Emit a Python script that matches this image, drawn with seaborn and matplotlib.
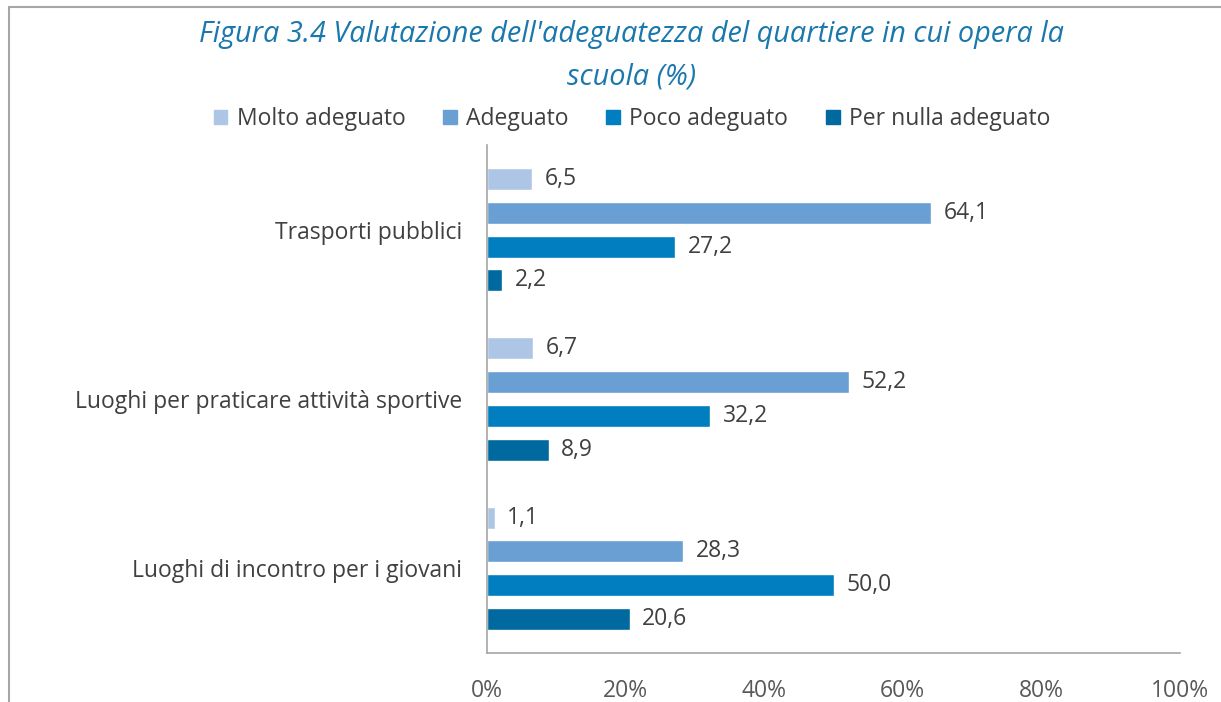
import matplotlib
matplotlib.use("Agg")
import matplotlib.pyplot as plt
import seaborn as sns
import pandas as pd
from matplotlib.lines import Line2D
from matplotlib.ticker import FuncFormatter

categories = ["Trasporti pubblici",
              "Luoghi per praticare attività sportive",
              "Luoghi di incontro per i giovani"]
series = ["Molto adeguato", "Adeguato", "Poco adeguato", "Per nulla adeguato"]
molto = [6.5, 6.7, 1.1]
adeguato = [64.1, 52.2, 28.3]
poco = [27.2, 32.2, 50.0]
per_nulla = [2.2, 8.9, 20.6]
colors = ["#adc6e5", "#6a9fd3", "#007ebf", "#00699f"]

rows = []
for name, vals in zip(series, [molto, adeguato, poco, per_nulla]):
    for cat, v in zip(categories, vals):
        rows.append({"categoria": cat, "serie": name, "valore": v})
df = pd.DataFrame(rows)

sns.set_style("white")
plt.rcParams["font.family"] = ["Open Sans", "DejaVu Sans"]

fig = plt.figure(figsize=(12.21, 7.02), dpi=100)
ax = fig.add_axes([487 / 1221, 1 - 653 / 702, (1180 - 487) / 1221, (653 - 145) / 702])

sns.barplot(data=df, y="categoria", x="valore", hue="serie", order=categories,
            hue_order=series, palette=colors, orient="h", width=0.8, gap=0.35,
            saturation=1, ax=ax, legend=False)

for container in ax.containers:
    ax.bar_label(container, labels=[f"{b.get_width():.1f}".replace(".", ",") for b in container],
                 padding=9, fontsize=16.5, color="#404040")

ax.set_xlim(0, 100)
ax.set_xticks([0, 20, 40, 60, 80, 100])
ax.xaxis.set_major_formatter(FuncFormatter(lambda v, p: f"{v:.0f}%"))
ax.tick_params(axis="x", length=0, pad=19, labelsize=16.5, labelcolor="#595959")
ax.tick_params(axis="y", length=0, pad=18, labelsize=16.5, labelcolor="#404040")
ax.set_xlabel("")
ax.set_ylabel("")
for side in ["top", "right"]:
    ax.spines[side].set_visible(False)
for side in ["left", "bottom"]:
    ax.spines[side].set_color("#a6a6a6")
    ax.spines[side].set_linewidth(1.2)

fig.text(632 / 1221, 1 - 20 / 702,
         "Figura 3.4 Valutazione dell'adeguatezza del quartiere in cui opera la\nscuola (%)",
         ha="center", va="top", fontsize=20.8, style="italic", color="#1a78ad",
         linespacing=1.6)

handles = [plt.Rectangle((0, 0), 1, 1, color=c) for c in colors]
fig.legend(handles, series, loc="center", bbox_to_anchor=(632 / 1221, 1 - 119 / 702),
           ncol=4, frameon=False, fontsize=16.5, handlelength=0.6, handleheight=0.6,
           handletextpad=0.4, columnspacing=1.65, labelcolor="#404040")

fig.add_artist(Line2D([9 / 1221, 9 / 1221], [0, 1 - 7 / 702], transform=fig.transFigure,
                      color="#a6a6a6", linewidth=1.5))
fig.add_artist(Line2D([9 / 1221, 1], [1 - 7 / 702, 1 - 7 / 702], transform=fig.transFigure,
                      color="#a6a6a6", linewidth=1.5))

fig.savefig("out.png", dpi=100)
